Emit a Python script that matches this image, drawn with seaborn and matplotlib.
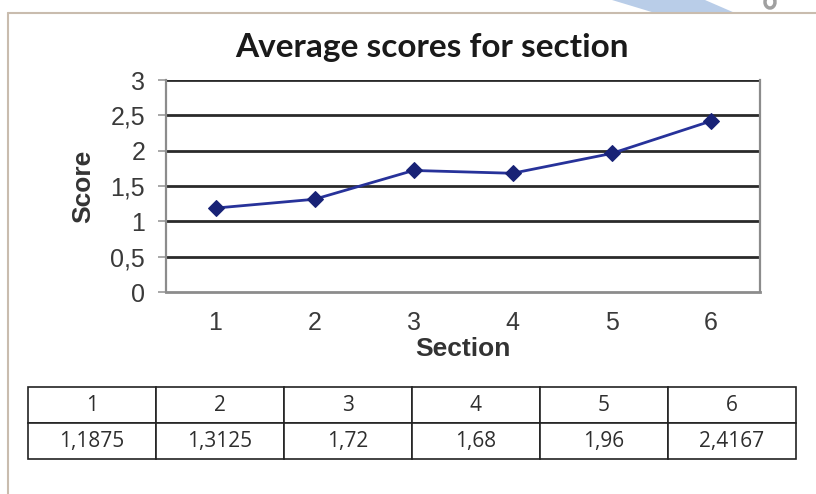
"""Average scores per section: line chart with a value table underneath."""

import matplotlib

matplotlib.use("Agg")
import matplotlib.pyplot as plt
import pandas as pd
import seaborn as sns
from matplotlib.lines import Line2D
from matplotlib.patches import Arc, Polygon
from matplotlib.ticker import FixedLocator, FuncFormatter

SECTIONS = [1, 2, 3, 4, 5, 6]
SCORES = [1.1875, 1.3125, 1.72, 1.68, 1.96, 2.4167]
Y_TICKS = [0, 0.5, 1, 1.5, 2, 2.5, 3]
TITLE = "Average scores for section"
X_LABEL = "Section"
Y_LABEL = "Score"

W, H = 816, 494


# numbers are written with a decimal comma in the source
def comma(v):
    return f"{v:g}".replace(".", ",")


# figure-fraction box from pixel edges (left, top, right, bottom)
def px_box(left, top, right, bottom):
    return [left / W, 1 - bottom / H, (right - left) / W, (bottom - top) / H]


sns.set_style("white")
plt.rcParams["font.family"] = ["Liberation Sans", "DejaVu Sans"]

df = pd.DataFrame({"section": SECTIONS, "score": SCORES})

fig = plt.figure(figsize=(W / 100, H / 100), dpi=100)

# page frame and the clipped seal in the top right corner
frame = "#c9bcae"
fig.add_artist(Line2D([8 / W, 8 / W], [0, 1 - 13 / H], color=frame, lw=1.5))
fig.add_artist(Line2D([8 / W, 1], [1 - 13 / H, 1 - 13 / H], color=frame, lw=1.5))
seal = fig.add_axes([0, 1 - 13 / H, 1, 13 / H])
seal.set_xlim(0, W)
seal.set_ylim(13, 0)
seal.axis("off")
seal.add_patch(Polygon([(612, 0), (705, 0), (735, 13), (655, 13)], closed=True,
                       facecolor="#b9cde8", edgecolor="none"))
seal.add_patch(Arc((700, -70), 110, 170, theta1=-80, theta2=0, color="#9a9a9a", lw=1))
seal.add_patch(Arc((705, -70), 190, 180, theta1=-60, theta2=-20, color="#9a9a9a", lw=1))
seal.add_patch(Arc((770, 2), 10, 12, color="#a0a0a0", lw=2.5))

# main chart
ax = fig.add_axes(px_box(166, 80, 760, 292))
for v in Y_TICKS[1:]:
    ax.axhline(v, color="#2a2a2a", lw=2, zorder=1)
sns.lineplot(data=df, x="section", y="score", ax=ax, color="#27329a", lw=2,
             marker="D", markersize=8, markerfacecolor="#182276",
             markeredgecolor="#182276", zorder=3)

ax.set_xlim(SECTIONS[0] - 0.5, SECTIONS[-1] + 0.5)
ax.set_ylim(Y_TICKS[0], Y_TICKS[-1])
ax.set_xticks(SECTIONS)
ax.xaxis.set_minor_locator(FixedLocator([s - 0.5 for s in SECTIONS] + [SECTIONS[-1] + 0.5]))
ax.set_yticks(Y_TICKS)
ax.yaxis.set_major_formatter(FuncFormatter(lambda v, _: comma(v)))

ax.tick_params(axis="x", which="major", length=0, pad=14, labelsize=18, labelcolor="#3a3a3a")
ax.tick_params(axis="x", which="minor", length=6, width=1.2, color="#9a9a9a", direction="out")
ax.tick_params(axis="y", length=6, width=1.2, color="#9a9a9a", pad=9,
               labelsize=18, labelcolor="#3a3a3a", left=True)

for side in ("left", "right", "bottom"):
    ax.spines[side].set_visible(True)
    ax.spines[side].set_color("#8c8c8c")
    ax.spines[side].set_linewidth(1.6)
ax.spines["top"].set_visible(False)
ax.spines["bottom"].set_linewidth(2)

ax.set_xlabel(X_LABEL, fontsize=19, fontweight="bold", color="#333333", va="center")
ax.xaxis.set_label_coords(0.5, -0.27)
ax.set_ylabel(Y_LABEL, fontsize=19, fontweight="bold", color="#333333", va="center")
ax.yaxis.set_label_coords(-0.14, 0.5)

fig.text(432 / W, 1 - 47 / H, TITLE, ha="center", va="center", fontsize=24,
         fontweight="bold", family=["Lato", "DejaVu Sans"], color="#1a1a1a")

# value table under the chart
tab_ax = fig.add_axes(px_box(28, 387, 796, 459))
tab_ax.axis("off")
table = tab_ax.table(cellText=[[str(s) for s in SECTIONS], [comma(v) for v in SCORES]],
                     cellLoc="center", bbox=[0, 0, 1, 1])
table.auto_set_font_size(False)
for cell in table.get_celld().values():
    cell.set_edgecolor("#222222")
    cell.set_linewidth(1.2)
    cell.get_text().set_fontsize(15)
    cell.get_text().set_color("#2e2e2e")
    cell.get_text().set_fontfamily(["Open Sans", "DejaVu Sans"])

fig.savefig("out.png", dpi=100)
plt.close(fig)
